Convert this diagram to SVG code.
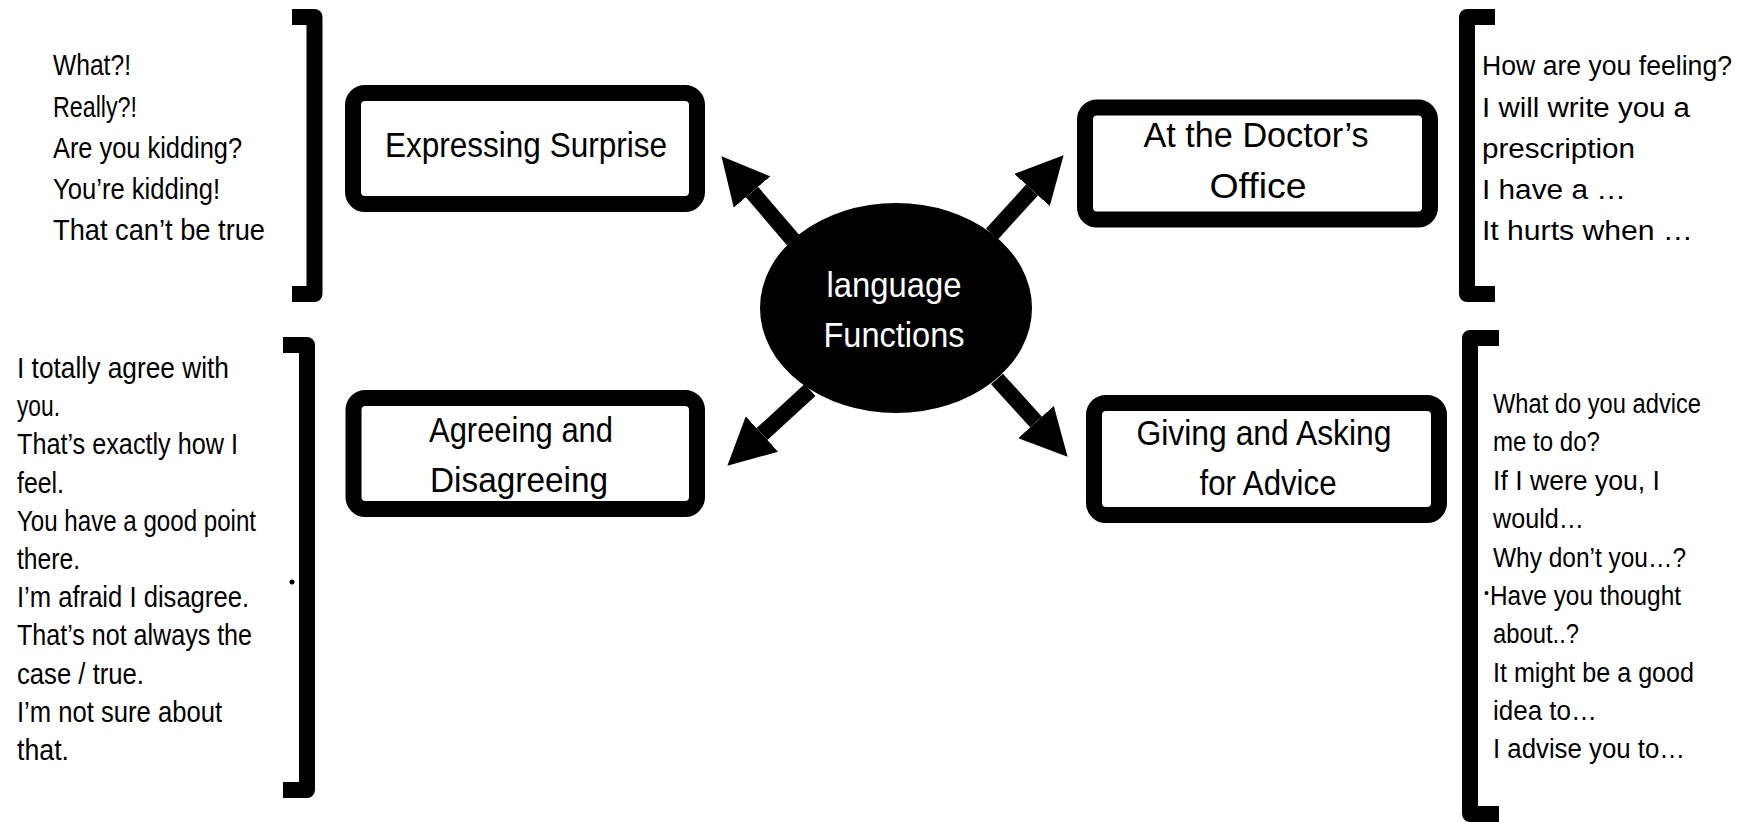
<svg xmlns="http://www.w3.org/2000/svg" width="1739" height="822" viewBox="0 0 1739 822">
<style>
  .bg{fill:#fff}
  .box{fill:#fff;stroke:#000;stroke-width:16}
  .brk{fill:none;stroke:#000;stroke-width:16;stroke-linejoin:round}
  .shaft{fill:none;stroke:#000;stroke-width:16}
  .side{font-family:"Liberation Sans",Arial,sans-serif;font-size:30px;fill:#000}
  .sider{font-family:"Liberation Sans",Arial,sans-serif;font-size:27px;fill:#000}
  .lbl{font-family:"Liberation Sans",Arial,sans-serif;font-size:35px;fill:#000;text-anchor:middle}
  .lblw{font-family:"Liberation Sans",Arial,sans-serif;font-size:35px;fill:#fff;text-anchor:middle}
</style>
<defs>
  <marker id="head" viewBox="0 0 47 48" refX="0" refY="24" markerWidth="47" markerHeight="48" markerUnits="userSpaceOnUse" orient="auto">
    <path d="M0,0 L47,24 L0,48 Z" fill="#000"/>
  </marker>
</defs>
<rect class="bg" x="0" y="0" width="1739" height="822"/>

<g id="connectors">
  <line class="shaft" x1="793" y1="240" x2="752" y2="192" marker-end="url(#head)"/>
  <line class="shaft" x1="992" y1="234" x2="1032" y2="190" marker-end="url(#head)"/>
  <line class="shaft" x1="810" y1="390" x2="762" y2="434" marker-end="url(#head)"/>
  <line class="shaft" x1="997" y1="379" x2="1036" y2="422" marker-end="url(#head)"/>
</g>

<g id="center">
  <ellipse cx="896" cy="308" rx="136" ry="105" fill="#000"/>
  <text class="lblw" x="894" y="297" textLength="135" lengthAdjust="spacingAndGlyphs">language</text>
  <text class="lblw" x="894" y="347" textLength="141" lengthAdjust="spacingAndGlyphs">Functions</text>
</g>

<g id="surprise">
  <rect class="box" x="353" y="93" width="344" height="111" rx="12"/>
  <text class="lbl" x="526" y="157" textLength="282" lengthAdjust="spacingAndGlyphs">Expressing Surprise</text>
</g>

<g id="doctor">
  <rect class="box" x="1085" y="107.5" width="345" height="112" rx="12"/>
  <text class="lbl" x="1256" y="147" textLength="225" lengthAdjust="spacingAndGlyphs">At the Doctor’s</text>
  <text class="lbl" x="1258" y="198" textLength="97" lengthAdjust="spacingAndGlyphs">Office</text>
</g>

<g id="agreeing">
  <rect class="box" x="353.5" y="398" width="343.5" height="111" rx="12"/>
  <text class="lbl" x="521" y="442" textLength="184" lengthAdjust="spacingAndGlyphs">Agreeing and</text>
  <text class="lbl" x="519" y="492" textLength="178" lengthAdjust="spacingAndGlyphs">Disagreeing</text>
</g>

<g id="advice">
  <rect class="box" x="1094" y="403" width="345" height="112" rx="12"/>
  <text class="lbl" x="1264" y="445" textLength="255" lengthAdjust="spacingAndGlyphs">Giving and Asking</text>
  <text class="lbl" x="1268" y="495" textLength="137" lengthAdjust="spacingAndGlyphs">for Advice</text>
</g>

<g id="surprise-phrases">
  <path class="brk" d="M292 17 H314.5 V294 H292"/>
  <text class="side" x="53" y="75" textLength="78" lengthAdjust="spacingAndGlyphs">What?!</text>
  <text class="side" x="53" y="117" textLength="84" lengthAdjust="spacingAndGlyphs">Really?!</text>
  <text class="side" x="53" y="158" textLength="189" lengthAdjust="spacingAndGlyphs">Are you kidding?</text>
  <text class="side" x="53" y="199" textLength="167" lengthAdjust="spacingAndGlyphs">You’re kidding!</text>
  <text class="side" x="53" y="240" textLength="212" lengthAdjust="spacingAndGlyphs">That can’t be true</text>
</g>

<g id="doctor-phrases">
  <path class="brk" d="M1495 17 H1467 V294 H1495"/>
  <text class="sider" x="1482" y="75" textLength="250" lengthAdjust="spacingAndGlyphs">How are you feeling?</text>
  <text class="sider" x="1482" y="117" textLength="208" lengthAdjust="spacingAndGlyphs">I will write you a</text>
  <text class="sider" x="1482" y="158" textLength="153" lengthAdjust="spacingAndGlyphs">prescription</text>
  <text class="sider" x="1482" y="199" textLength="144" lengthAdjust="spacingAndGlyphs">I have a …</text>
  <text class="sider" x="1482" y="240" textLength="211" lengthAdjust="spacingAndGlyphs">It hurts when …</text>
</g>

<g id="agreeing-phrases">
  <path class="brk" d="M283 345 H307 V790 H283"/>
  <circle cx="292" cy="582" r="2.5" fill="#000"/>
  <text class="side" x="17" y="378" textLength="212" lengthAdjust="spacingAndGlyphs">I totally agree with</text>
  <text class="side" x="17" y="416" textLength="43" lengthAdjust="spacingAndGlyphs">you.</text>
  <text class="side" x="17" y="454" textLength="221" lengthAdjust="spacingAndGlyphs">That’s exactly how I</text>
  <text class="side" x="17" y="493" textLength="47" lengthAdjust="spacingAndGlyphs">feel.</text>
  <text class="side" x="17" y="531" textLength="239" lengthAdjust="spacingAndGlyphs">You have a good point</text>
  <text class="side" x="17" y="569" textLength="63" lengthAdjust="spacingAndGlyphs">there.</text>
  <text class="side" x="17" y="607" textLength="232" lengthAdjust="spacingAndGlyphs">I’m afraid I disagree.</text>
  <text class="side" x="17" y="645" textLength="235" lengthAdjust="spacingAndGlyphs">That’s not always the</text>
  <text class="side" x="17" y="684" textLength="127" lengthAdjust="spacingAndGlyphs">case / true.</text>
  <text class="side" x="17" y="722" textLength="205" lengthAdjust="spacingAndGlyphs">I’m not sure about</text>
  <text class="side" x="17" y="760" textLength="52" lengthAdjust="spacingAndGlyphs">that.</text>
</g>

<g id="advice-phrases">
  <path class="brk" d="M1499 338 H1470 V814 H1499"/>
  <text class="sider" x="1493" y="413" textLength="208" lengthAdjust="spacingAndGlyphs">What do you advice</text>
  <text class="sider" x="1493" y="451" textLength="107" lengthAdjust="spacingAndGlyphs">me to do?</text>
  <text class="sider" x="1493" y="490" textLength="167" lengthAdjust="spacingAndGlyphs">If I were you, I</text>
  <text class="sider" x="1493" y="528" textLength="91" lengthAdjust="spacingAndGlyphs">would…</text>
  <text class="sider" x="1493" y="567" textLength="193" lengthAdjust="spacingAndGlyphs">Why don’t you…?</text>
  <text class="sider" x="1484" y="598" style="font-size:14px">•</text>
  <text class="sider" x="1490" y="605" textLength="191" lengthAdjust="spacingAndGlyphs">Have you thought</text>
  <text class="sider" x="1493" y="643" textLength="86" lengthAdjust="spacingAndGlyphs">about..?</text>
  <text class="sider" x="1493" y="682" textLength="201" lengthAdjust="spacingAndGlyphs">It might be a good</text>
  <text class="sider" x="1493" y="720" textLength="104" lengthAdjust="spacingAndGlyphs">idea to…</text>
  <text class="sider" x="1493" y="758" textLength="192" lengthAdjust="spacingAndGlyphs">I advise you to…</text>
</g>
</svg>
